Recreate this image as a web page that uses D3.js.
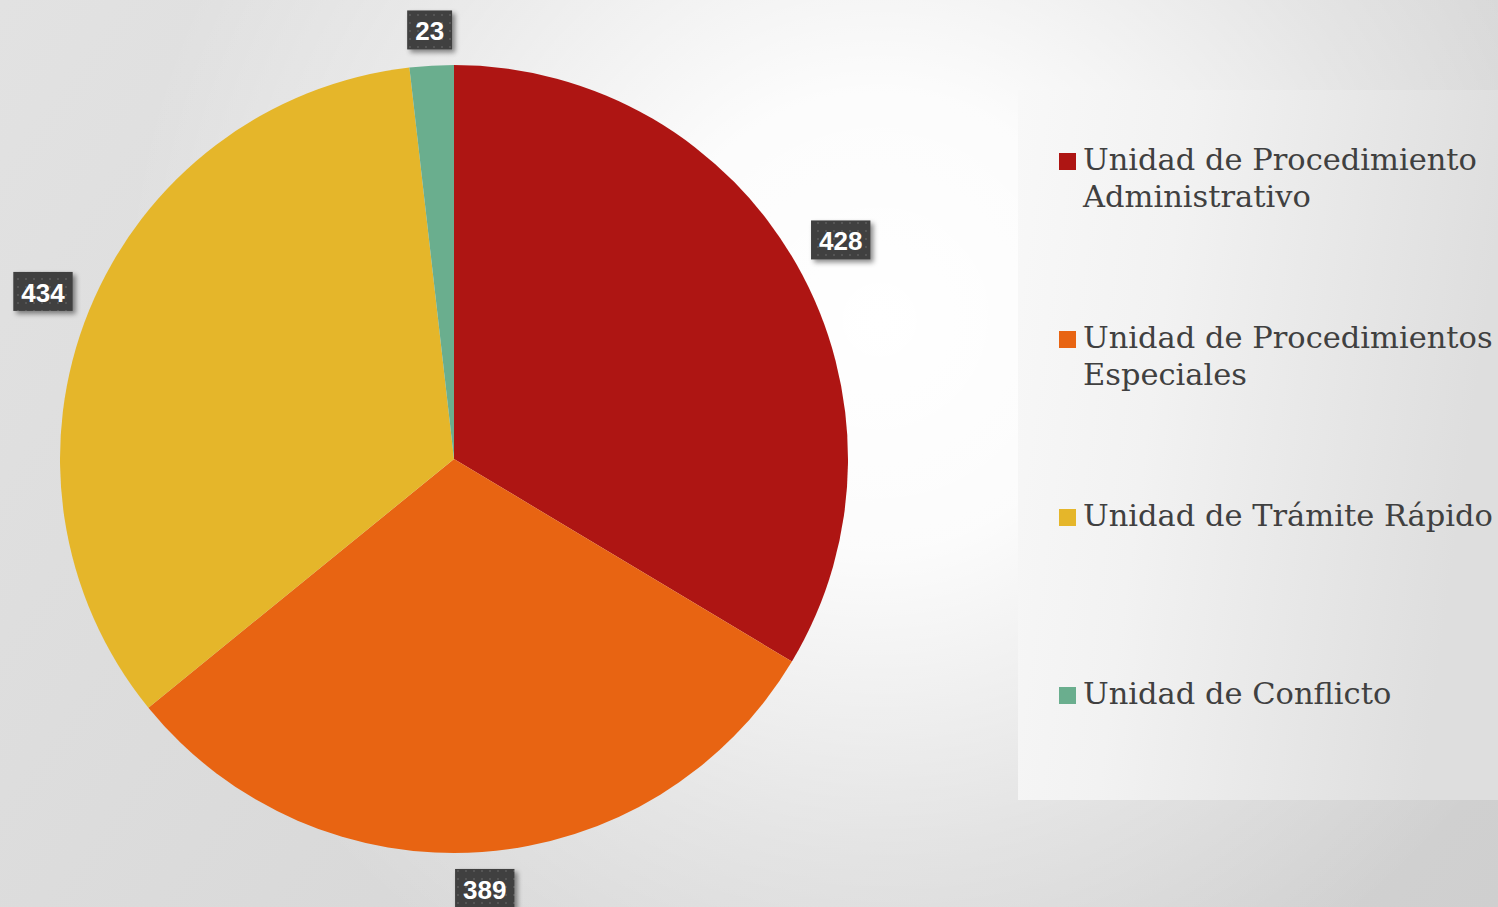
<!DOCTYPE html>
<html><head><meta charset="utf-8">
<script src="https://cdn.jsdelivr.net/npm/d3@7"></script>
<style>html,body{margin:0;padding:0;overflow:hidden;background:#fff}</style>
</head><body>
<svg id="c" width="1498" height="907"></svg>
<script>
const categories = ["Unidad de Procedimiento Administrativo","Unidad de Procedimientos Especiales","Unidad de Trámite Rápido","Unidad de Conflicto"];
const legendLines = [["Unidad de Procedimiento","Administrativo"],["Unidad de Procedimientos","Especiales"],["Unidad de Trámite Rápido"],["Unidad de Conflicto"]];
const values = [428, 389, 434, 23];
const colors = ["#AE1513","#E86412","#E5B62A","#6AAE8E"];

const svg = d3.select("#c");
const W = 1498, H = 907;
const defs = svg.append("defs");

// base linear gradient (light left -> darker right/bottom)
const a = 0.7/W, b = 0.3/H, n = a*a + b*b;
const base = defs.append("linearGradient").attr("id","base").attr("gradientUnits","userSpaceOnUse")
  .attr("x1",0).attr("y1",0).attr("x2",a/n).attr("y2",b/n);
base.append("stop").attr("offset","0").attr("stop-color","#e2e2e2");
base.append("stop").attr("offset","1").attr("stop-color","#cfcfcf");
svg.append("rect").attr("width",W).attr("height",H).attr("fill","url(#base)");

// white radial highlight
const bg = defs.append("radialGradient").attr("id","hl").attr("gradientUnits","userSpaceOnUse")
  .attr("cx",880).attr("cy",320).attr("r",760);
bg.append("stop").attr("offset","0").attr("stop-color","#ffffff").attr("stop-opacity",1);
bg.append("stop").attr("offset","0.3").attr("stop-color","#ffffff").attr("stop-opacity",0.92);
bg.append("stop").attr("offset","0.7").attr("stop-color","#ffffff").attr("stop-opacity",0.35);
bg.append("stop").attr("offset","1").attr("stop-color","#ffffff").attr("stop-opacity",0);
svg.append("rect").attr("width",W).attr("height",H).attr("fill","url(#hl)");

// legend panel gradient
const lg = defs.append("linearGradient").attr("id","lg").attr("x1","0").attr("y1","0").attr("x2","1").attr("y2","0.2");
lg.append("stop").attr("offset","0").attr("stop-color","#f8f8f8");
lg.append("stop").attr("offset","0.35").attr("stop-color","#f2f2f2");
lg.append("stop").attr("offset","1").attr("stop-color","#dedede");
svg.append("rect").attr("x",1018).attr("y",90).attr("width",480).attr("height",710).attr("fill","url(#lg)");

// dot pattern for labels
const pat = defs.append("pattern").attr("id","dots").attr("patternUnits","userSpaceOnUse").attr("width",8).attr("height",8);
pat.append("rect").attr("width",8).attr("height",8).attr("fill","#3f3f3f");
pat.append("rect").attr("x",3).attr("y",3).attr("width",2).attr("height",2).attr("fill","#555555");

const sh = defs.append("filter").attr("id","sh").attr("x","-30%").attr("y","-30%").attr("width","170%").attr("height","170%");
sh.append("feDropShadow").attr("dx",3).attr("dy",3).attr("stdDeviation",2.5).attr("flood-color","#000").attr("flood-opacity",0.45);

const cx = 454, cy = 459, R = 394;
const pie = d3.pie().sort(null).value(d=>d);
const arcs = pie(values);
const arc = d3.arc().innerRadius(0).outerRadius(R);
const g = svg.append("g").attr("transform",`translate(${cx},${cy})`);
g.selectAll("path").data(arcs).join("path").attr("d",arc).attr("fill",(d,i)=>colors[i]);

// labels
const lab = g.selectAll("g.lab").data(arcs).join("g").attr("class","lab");
lab.each(function(d){
  const s = d3.select(this);
  const t = s.append("text").text(d.data).attr("font-family","'Liberation Sans',Arial,sans-serif")
    .attr("font-weight","bold").attr("font-size",26).attr("fill","#fff").attr("text-anchor","middle").attr("dy","0.35em");
  const w = t.node().getComputedTextLength() + 16, h = 39;
  const ang = (d.startAngle + d.endAngle)/2;
  const sx = Math.sin(ang), sy = -Math.cos(ang);
  const ext = Math.abs(sx)*w/2 + Math.abs(sy)*h/2;
  const rr = R + 15 + ext;
  const x = sx*rr, y = sy*rr;
  s.insert("rect","text").attr("x",x-w/2).attr("y",y-h/2).attr("width",w).attr("height",h)
    .attr("fill","url(#dots)").attr("filter","url(#sh)");
  t.attr("x",x).attr("y",y+1);
});

// legend
const baselines0 = 170, step = 178, lineH = 37;
const leg = svg.append("g");
legendLines.forEach((lines,i)=>{
  const by = baselines0 + i*step;
  leg.append("rect").attr("x",1059).attr("y",by-17).attr("width",17).attr("height",17).attr("fill",colors[i]);
  lines.forEach((ln,j)=>{
    leg.append("text").attr("class","lt").attr("x",1083).attr("y",by + j*lineH).text(ln)
      .attr("font-family","'DejaVu Serif',serif").attr("font-size",26).attr("fill","#404040");
  });
});
const ref = leg.selectAll("text.lt").filter(function(){return this.textContent==="Unidad de Trámite Rápido";}).node();
const fs = 26*410/ref.getComputedTextLength();
leg.selectAll("text.lt").attr("font-size",fs);
</script>
</body></html>
